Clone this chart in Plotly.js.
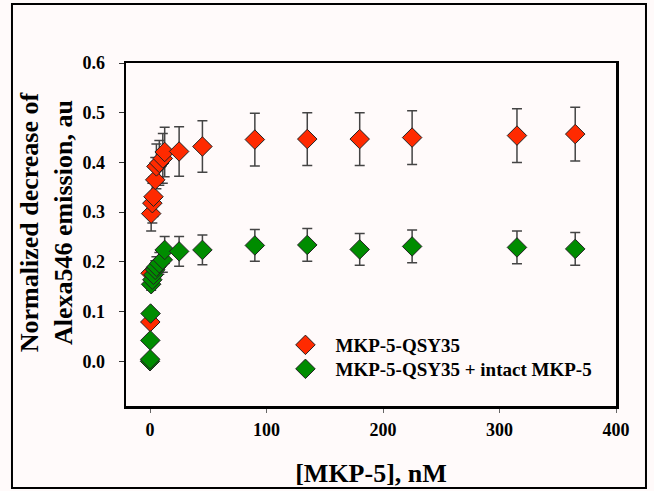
<!DOCTYPE html>
<html>
<head>
<meta charset="utf-8">
<script src="https://cdn.plot.ly/plotly-3.0.1.min.js"></script>
<style>html,body{margin:0;padding:0;background:#fffafa;}</style>
</head>
<body>
<div id="chart" style="width:654px;height:491px;"></div>
<script>
// MKP-5-QSY35
var redX   = [0.25, 0.5, 1, 2, 3, 4.5, 5.5, 8, 11, 12.6, 25, 45, 90, 135, 180, 225, 315, 365];
var redY   = [0.079, 0.177, 0.297, 0.318, 0.331, 0.365, 0.392, 0.399, 0.408, 0.421, 0.422, 0.432, 0.446, 0.447, 0.447, 0.450, 0.454, 0.457];
var redErr = [0.0, 0.01, 0.035, 0.04, 0.04, 0.045, 0.045, 0.045, 0.05, 0.05, 0.05, 0.052, 0.053, 0.053, 0.053, 0.054, 0.054, 0.054];
// MKP-5-QSY35 + intact MKP-5
var grnX   = [0, 0.1, 0.25, 0.5, 1, 2, 3, 4.5, 5.5, 8, 11, 12.6, 25, 45, 90, 135, 180, 225, 315, 365];
var grnY   = [0.0, 0.004, 0.042, 0.096, 0.155, 0.164, 0.174, 0.184, 0.19, 0.197, 0.204, 0.224, 0.221, 0.224, 0.233, 0.234, 0.225, 0.231, 0.229, 0.226];
var grnErr = [0, 0, 0, 0, 0.012, 0.015, 0.015, 0.018, 0.02, 0.022, 0.025, 0.027, 0.03, 0.03, 0.032, 0.033, 0.032, 0.033, 0.033, 0.033];
var seriesNames = ["MKP-5-QSY35", "MKP-5-QSY35 + intact MKP-5"];
var xTicks = [0, 100, 200, 300, 400];
var yTicks = [0.0, 0.1, 0.2, 0.3, 0.4, 0.5, 0.6];

var serif = "'Liberation Serif', 'Times New Roman', serif";
function trace(x, y, e, name, color, legendId) {
  return {
    x: x, y: y, name: name, type: 'scatter', mode: 'markers', legend: legendId,
    marker: {symbol: 'diamond', size: 15, color: color, line: {color: '#222', width: 1}},
    error_y: {type: 'data', array: e, visible: true, color: '#444', thickness: 1.5, width: 5}
  };
}
var data = [
  trace(redX, redY, redErr, seriesNames[0], '#ff2a00', 'legend'),
  trace(grnX, grnY, grnErr, seriesNames[1], '#008c00', 'legend2')
];
function legendBox(y) {
  return {
    x: 0.305, y: y, xanchor: 'left', yanchor: 'top',
    bgcolor: 'rgba(0,0,0,0)', itemwidth: 50,
    font: {family: serif, size: 19, weight: 'bold', color: '#000'}
  };
}
var layout = {
  width: 654, height: 491,
  paper_bgcolor: '#fffafa', plot_bgcolor: '#fffafa',
  margin: {l: 126, r: 38, t: 63, b: 85},
  font: {family: serif, color: '#000'},
  showlegend: true,
  legend: legendBox(0.2332),
  legend2: legendBox(0.1633),
  xaxis: {
    range: [-20.6, 400], tickvals: xTicks, ticktext: xTicks.map(String),
    showgrid: false, zeroline: false,
    showline: true, linecolor: '#000', linewidth: 2.5, mirror: true,
    ticks: 'outside', ticklen: 4, tickcolor: '#666', tickwidth: 1,
    tickfont: {family: serif, size: 18, weight: 'bold', color: '#000'},
    ticklabelstandoff: 2,
    title: {text: '[MKP-5], nM', font: {family: serif, size: 26, weight: 'bold', color: '#000'}, standoff: 25}
  },
  yaxis: {
    range: [-0.09, 0.6], tickvals: yTicks, ticktext: yTicks.map(function(v){return v.toFixed(1);}),
    showgrid: false, zeroline: false,
    showline: true, linecolor: '#000', linewidth: 2.5, mirror: true,
    ticks: 'outside', ticklen: 5, tickcolor: '#333', tickwidth: 1,
    tickfont: {family: serif, size: 18, weight: 'bold', color: '#000'},
    ticklabelstandoff: 10
  },
  annotations: [{
    xref: 'paper', yref: 'paper', x: -0.163, y: 0.536,
    xanchor: 'center', yanchor: 'middle', textangle: -90, showarrow: false,
    text: 'Normalized decrease of<br>Alexa546 emission, au',
    font: {family: serif, size: 26, weight: 'bold', color: '#000'}
  }],
  shapes: [{
    type: 'rect', xref: 'paper', yref: 'paper',
    x0: -0.2327, x1: 1.0612, y0: -0.239, y1: 1.172,
    line: {color: '#000', width: 2}, fillcolor: 'rgba(0,0,0,0)', layer: 'below'
  }]
};
Plotly.newPlot('chart', data, layout, {displayModeBar: false, staticPlot: true});
</script>
</body>
</html>
